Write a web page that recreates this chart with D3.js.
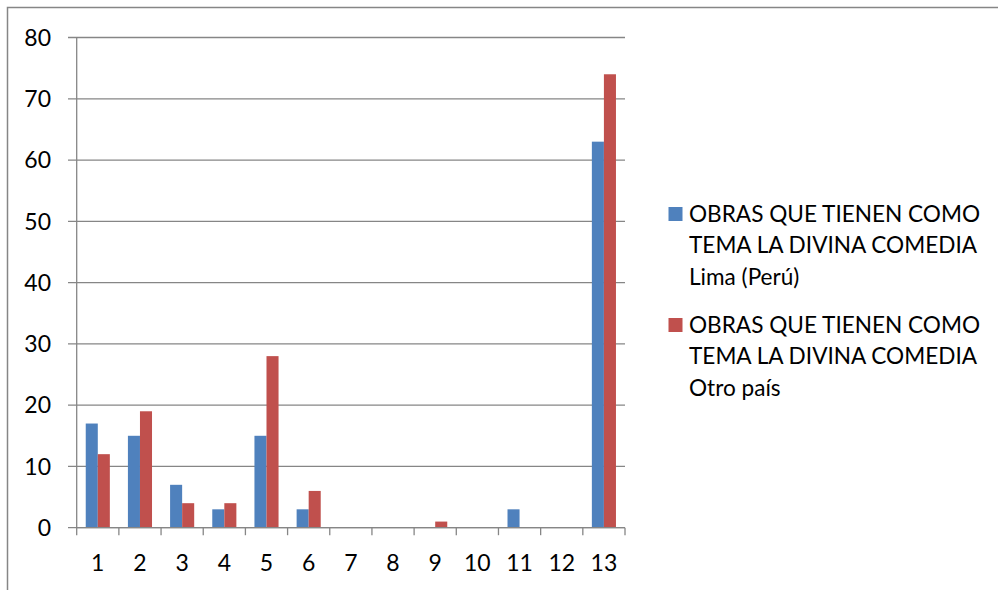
<!DOCTYPE html>
<html>
<head>
<meta charset="utf-8">
<script src="https://cdn.jsdelivr.net/npm/d3@7"></script>
<style>
  html, body { margin: 0; padding: 0; background: #fff; }
  svg { display: block; }
  text { font-family: Lato, "Open Sans", sans-serif; fill: #000; }
</style>
</head>
<body>
<svg id="chart" width="998" height="590"></svg>
<script>
const categories = ["1","2","3","4","5","6","7","8","9","10","11","12","13"];
const seriesNames = [
  ["OBRAS QUE TIENEN COMO", "TEMA LA DIVINA COMEDIA", "Lima (Perú)"],
  ["OBRAS QUE TIENEN COMO", "TEMA LA DIVINA COMEDIA", "Otro país"]
];
const limaValues = [17, 15, 7, 3, 15, 3, 0, 0, 0, 0, 3, 0, 63];
const otroValues = [12, 19, 4, 4, 28, 6, 0, 0, 1, 0, 0, 0, 74];
const yTicks = [0, 10, 20, 30, 40, 50, 60, 70, 80];
const colors = ["#4F81BD", "#C0504D"];

const svg = d3.select("#chart");
const gray = "#868686";

// outer frame
svg.append("rect")
  .attr("x", 7.5).attr("y", 7.5).attr("width", 1100).attr("height", 700)
  .attr("fill", "none").attr("stroke", gray).attr("stroke-width", 1.5);

const pL = 76.7, pR = 625, pT = 37.5, pB = 527.7;

const x = d3.scaleBand().domain(categories).range([pL, pR]).paddingInner(0).paddingOuter(0);
const y = d3.scaleLinear().domain([0, 80]).range([pB, pT]);

const series = [limaValues, otroValues];
const bw = x.bandwidth() / 3.5;
const off = x.bandwidth() * 0.75 / 3.5;

// gridlines
svg.append("g").selectAll("line").data(yTicks).join("line")
  .attr("x1", 68).attr("x2", pR)
  .attr("y1", d => y(d)).attr("y2", d => y(d))
  .attr("stroke", gray).attr("stroke-width", 1.3);

// bars
series.forEach((vals, si) => {
  svg.append("g").selectAll("rect").data(vals).join("rect")
    .attr("x", (d, i) => x(categories[i]) + off + si * bw)
    .attr("width", bw)
    .attr("y", d => y(d))
    .attr("height", d => y(0) - y(d))
    .attr("fill", colors[si]);
});

// y axis line
svg.append("line").attr("x1", pL).attr("x2", pL).attr("y1", pT).attr("y2", pB)
  .attr("stroke", gray).attr("stroke-width", 1.3);
// x axis line + ticks
svg.append("line").attr("x1", pL).attr("x2", pR).attr("y1", pB).attr("y2", pB)
  .attr("stroke", gray).attr("stroke-width", 1.3);
const tickPos = categories.map(c => x(c)).concat([pR]);
svg.append("g").selectAll("line").data(tickPos).join("line")
  .attr("x1", d => d).attr("x2", d => d).attr("y1", pB).attr("y2", pB + 7.5)
  .attr("stroke", gray).attr("stroke-width", 1.3);

// y labels
svg.append("g").selectAll("text").data(yTicks).join("text")
  .attr("x", 51).attr("y", d => y(d)).attr("dy", "0.36em")
  .attr("text-anchor", "end").attr("font-size", 23)
  .text(d => d);

// x labels
svg.append("g").selectAll("text").data(categories).join("text")
  .attr("x", d => x(d) + x.bandwidth() / 2).attr("y", 563).attr("dy", "0.36em")
  .attr("text-anchor", "middle").attr("font-size", 23)
  .text(d => d);

// legend
const legendTops = [207, 318];
seriesNames.forEach((lines, si) => {
  const g = svg.append("g");
  g.append("rect").attr("x", 668.5).attr("y", legendTops[si]).attr("width", 14).attr("height", 14)
    .attr("fill", colors[si]);
  lines.forEach((t, li) => {
    g.append("text").attr("x", 689).attr("y", legendTops[si] + 14.5 + li * 31.5)
      .attr("font-size", 22.6).text(t);
  });
});
</script>
</body>
</html>
